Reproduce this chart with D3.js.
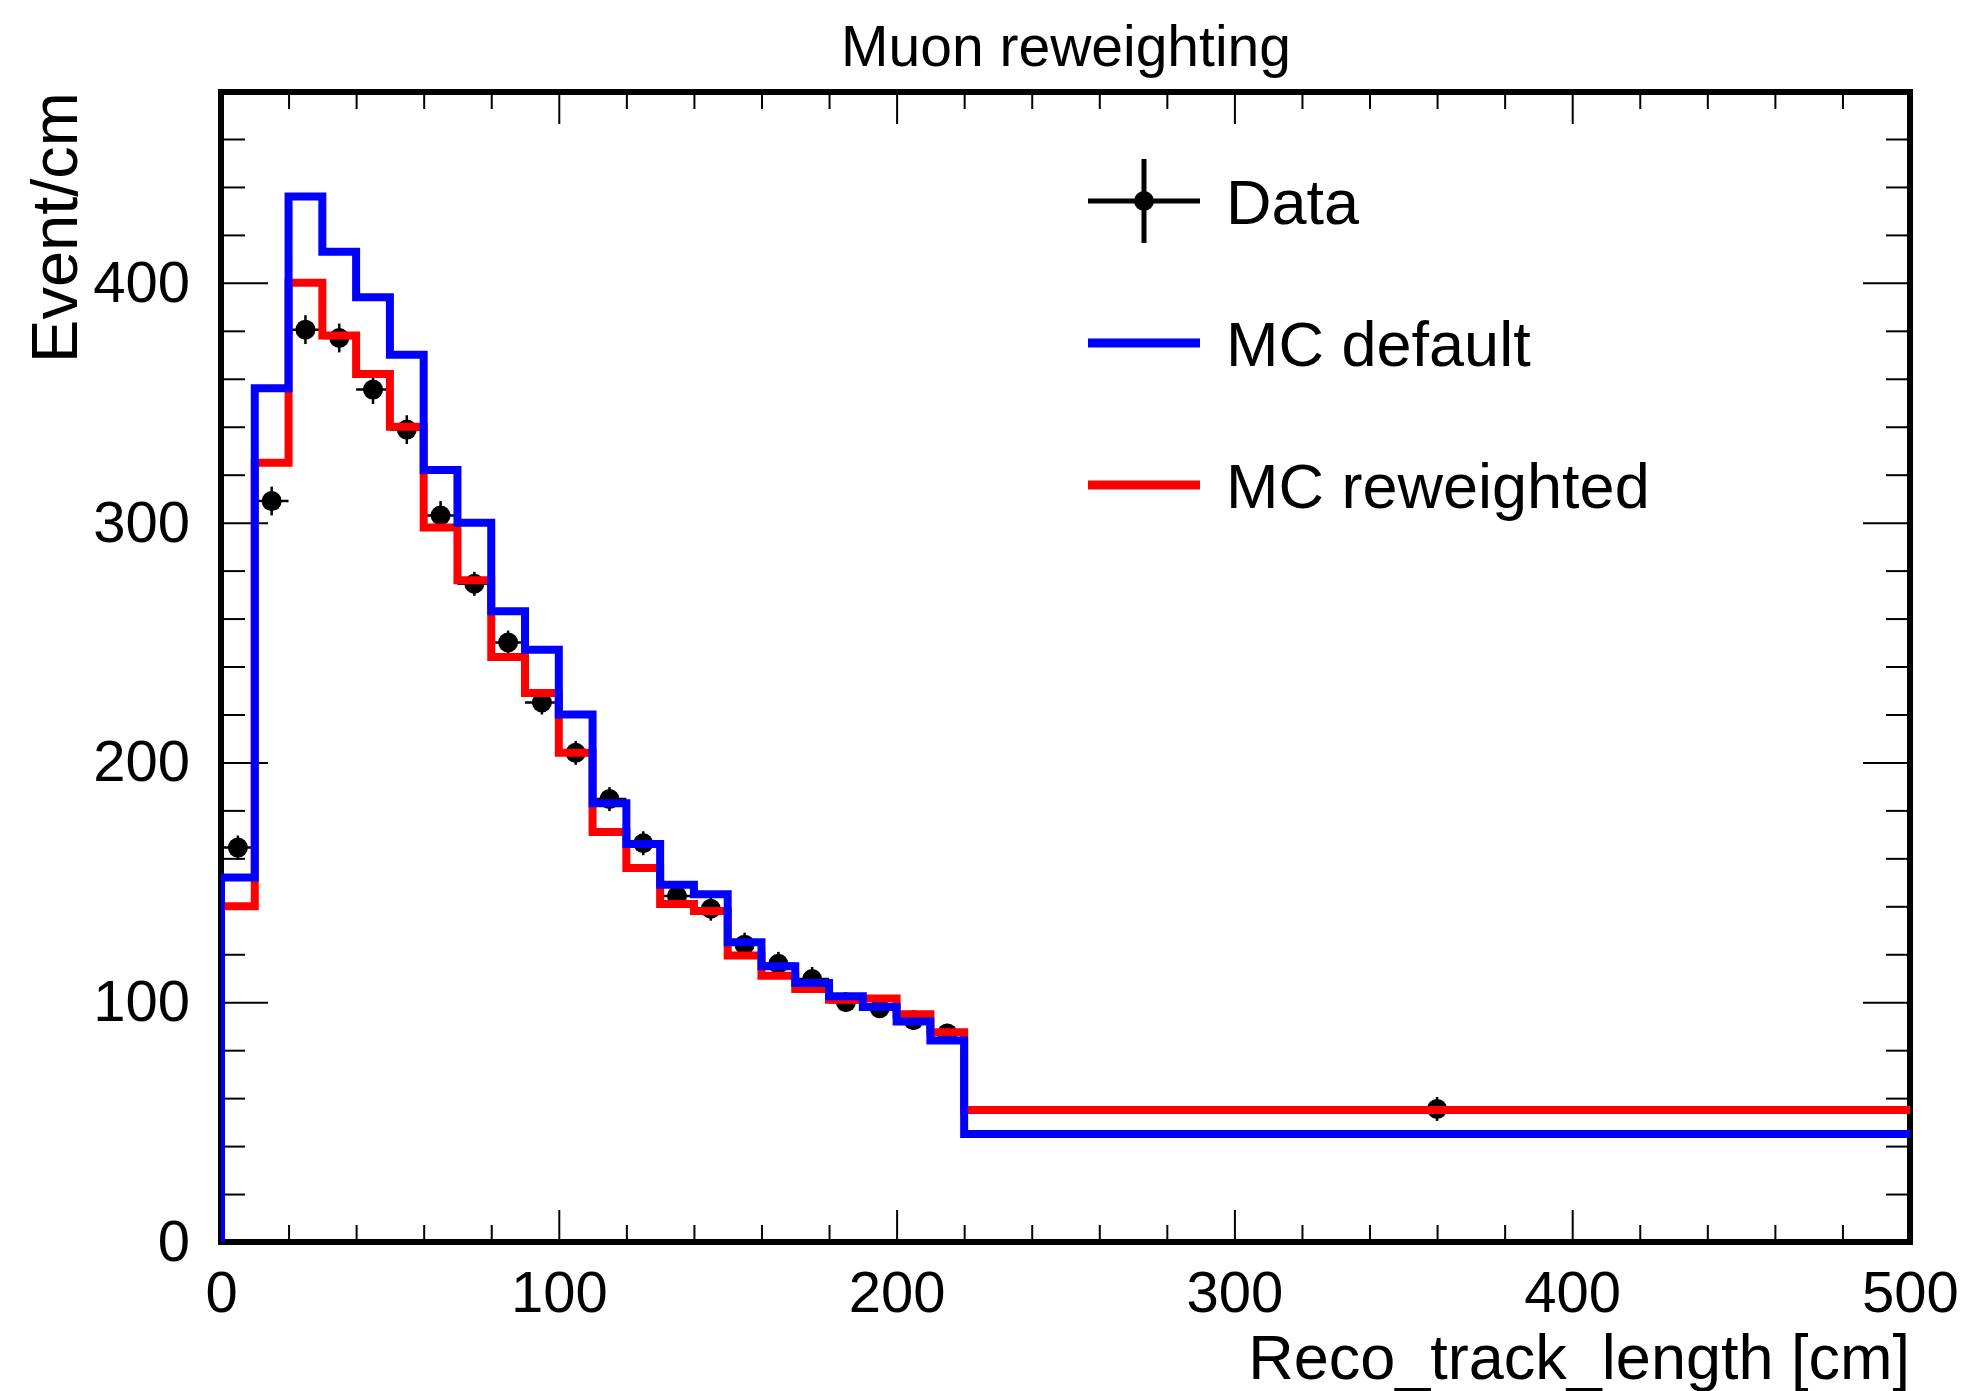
<!DOCTYPE html>
<html>
<head>
<meta charset="utf-8">
<script src="https://cdn.jsdelivr.net/npm/d3@7"></script>
<style>
    body { margin: 0; background: #fff; }
    text { font-family: 'Liberation Sans', Arial, sans-serif; }
</style>
</head>
<body>
<svg width="1966" height="1391"></svg>
<script>
// Bin edges (cm), 22 bins of 10 cm and one wide bin up to 500
const binEdges = [0, 10, 20, 30, 40, 50, 60, 70, 80, 90, 100, 110, 120, 130, 140, 150, 160, 170, 180, 190, 200, 210, 220, 500];

// MC default (blue)
const mcDefault = [152, 356, 436, 413, 394, 370, 322, 300, 263, 247, 220, 183, 166, 149, 145, 125, 115, 108, 102.5, 98, 92, 84, 45];

// MC reweighted (red)
const mcReweighted = [140, 325, 400, 378, 362, 340, 298, 276, 244, 229, 204, 171, 156, 141, 138, 119.5, 111, 105.5, 101, 101.5, 95, 87.5, 55];

// Data points and their errors
const dataValues = [164.5, 309, 380.5, 377, 355.5, 338.8, 303, 274.5, 250, 225, 204, 184.7, 166.3, 144.3, 139, 124, 116, 109.7, 100, 97.5, 92.5, 87, 55.5];
const dataErrors = [5, 6, 6, 6, 6, 6, 6, 5, 5, 5, 5, 5, 5, 5, 5, 5, 5, 5, 4, 4, 4, 4, 5];

const xMajorTicks = [0, 100, 200, 300, 400, 500];
const yMajorTicks = [0, 100, 200, 300, 400];

const legendLabels = ['Data', 'MC default', 'MC reweighted'];

function drawHistograms() {
    const width = 1966;
    const height = 1391;
    const padding = {
        top: 92,
        right: 56,
        bottom: 149,
        left: 221
    }
    const svg = d3.select('svg');
    svg.selectAll('*').remove();

    const xScale = d3.scaleLinear()
        .domain([0, 500])
        .range([padding.left, width - padding.right]);
    const yScale = d3.scaleLinear()
        .domain([0, 1.1 * d3.max(mcDefault)])
        .range([height - padding.bottom, padding.top]);

    const x0 = xScale.range()[0], x1 = xScale.range()[1];
    const y0 = yScale.range()[1], y1 = yScale.range()[0];

    svg.append('rect')
        .attr('width', width).attr('height', height).attr('fill', '#fff');

    svg.append('defs').append('clipPath').attr('id', 'plotClip')
        .append('rect')
        .attr('x', x0).attr('y', y0)
        .attr('width', x1 - x0).attr('height', y1 - y0);

    // Axes (ticks pointing into the frame, minor every 20, major every 100)
    const xMinor = d3.range(0, 501, 20).filter(v => v % 100 !== 0);
    const yMinor = d3.range(0, 480, 20).filter(v => v % 100 !== 0);

    function styleAxis(g) {
        g.select('.domain').remove();
        g.selectAll('line').attr('stroke', '#000').attr('stroke-width', 2);
        g.selectAll('text')
            .style('font-size', '58px')
            .style('font-family', "'Liberation Sans', Arial, sans-serif")
            .attr('fill', '#000');
    }

    svg.append('g')
        .attr('transform', `translate(0, ${y1})`)
        .call(d3.axisBottom(xScale).tickValues(xMinor).tickSize(-17).tickFormat(''))
        .call(styleAxis);
    svg.append('g')
        .attr('transform', `translate(0, ${y1})`)
        .call(d3.axisBottom(xScale).tickValues(xMajorTicks).tickSize(-32).tickPadding(29).tickFormat(d3.format('d')))
        .call(styleAxis);
    svg.append('g')
        .attr('transform', `translate(0, ${y0})`)
        .call(d3.axisTop(xScale).tickValues(xMinor).tickSize(-17).tickFormat(''))
        .call(styleAxis);
    svg.append('g')
        .attr('transform', `translate(0, ${y0})`)
        .call(d3.axisTop(xScale).tickValues(xMajorTicks).tickSize(-32).tickFormat(''))
        .call(styleAxis);

    svg.append('g')
        .attr('transform', `translate(${x0}, 0)`)
        .call(d3.axisLeft(yScale).tickValues(yMinor).tickSize(-24).tickFormat(''))
        .call(styleAxis);
    svg.append('g')
        .attr('transform', `translate(${x0}, 0)`)
        .call(d3.axisLeft(yScale).tickValues(yMajorTicks).tickSize(-47).tickPadding(31).tickFormat(d3.format('d')))
        .call(styleAxis);
    svg.append('g')
        .attr('transform', `translate(${x1}, 0)`)
        .call(d3.axisRight(yScale).tickValues(yMinor).tickSize(-24).tickFormat(''))
        .call(styleAxis);
    svg.append('g')
        .attr('transform', `translate(${x1}, 0)`)
        .call(d3.axisRight(yScale).tickValues(yMajorTicks).tickSize(-47).tickFormat(''))
        .call(styleAxis);

    // Frame
    svg.append('rect')
        .attr('x', x0).attr('y', y0)
        .attr('width', x1 - x0).attr('height', y1 - y0)
        .attr('fill', 'none')
        .attr('stroke', '#000')
        .attr('stroke-width', 6);

    const plot = svg.append('g').attr('clip-path', 'url(#plotClip)');

    // Data points (drawn first, histograms go over them)
    const points = dataValues.map((v, i) => ({
        lo: binEdges[i], hi: binEdges[i + 1],
        x: (binEdges[i] + binEdges[i + 1]) / 2, y: v, err: dataErrors[i]
    }));
    plot.selectAll('.xerr')
        .data(points)
        .join('line')
        .attr('x1', d => xScale(d.lo)).attr('x2', d => xScale(d.hi))
        .attr('y1', d => yScale(d.y)).attr('y2', d => yScale(d.y))
        .attr('stroke', '#000').attr('stroke-width', 2.5);
    plot.selectAll('.yerr')
        .data(points)
        .join('line')
        .attr('x1', d => xScale(d.x)).attr('x2', d => xScale(d.x))
        .attr('y1', d => yScale(d.y - d.err)).attr('y2', d => yScale(d.y + d.err))
        .attr('stroke', '#000').attr('stroke-width', 2.5);
    plot.selectAll('circle')
        .data(points)
        .join('circle')
        .attr('cx', d => xScale(d.x))
        .attr('cy', d => yScale(d.y))
        .attr('r', 10)
        .attr('fill', '#000');

    // Step histograms
    const stepLine = d3.line()
        .x(d => xScale(d[0]))
        .y(d => yScale(d[1]))
        .curve(d3.curveStepAfter);
    function histPoints(values) {
        const pts = [[binEdges[0], 0]];
        values.forEach((v, i) => pts.push([binEdges[i], v]));
        pts.push([binEdges[binEdges.length - 1], values[values.length - 1]]);
        return pts;
    }
    plot.append('path')
        .attr('d', stepLine(histPoints(mcReweighted)))
        .attr('fill', 'none')
        .attr('stroke', '#ff0000')
        .attr('stroke-width', 8)
        .attr('stroke-linejoin', 'miter');
    plot.append('path')
        .attr('d', stepLine(histPoints(mcDefault)))
        .attr('fill', 'none')
        .attr('stroke', '#0000ff')
        .attr('stroke-width', 8)
        .attr('stroke-linejoin', 'miter');

    // Legend
    const legendY = [201, 343, 485];
    const legendColors = ['#000', '#0000ff', '#ff0000'];
    const legend = svg.append('g');
    legendLabels.forEach((label, i) => {
        legend.append('line')
            .attr('x1', 1088).attr('x2', 1200)
            .attr('y1', legendY[i]).attr('y2', legendY[i])
            .attr('stroke', legendColors[i])
            .attr('stroke-width', i === 0 ? 5 : 9);
        legend.append('text')
            .text(label)
            .attr('x', 1226)
            .attr('y', legendY[i])
            .attr('dy', '0.36em')
            .style('font-size', '63px');
    });
    legend.append('line')
        .attr('x1', 1144).attr('x2', 1144)
        .attr('y1', legendY[0] - 42).attr('y2', legendY[0] + 42)
        .attr('stroke', '#000').attr('stroke-width', 5);
    legend.append('circle')
        .attr('cx', 1144).attr('cy', legendY[0]).attr('r', 10).attr('fill', '#000');

    // Labels
    svg.append('text')
        .text('Muon reweighting')
        .attr('x', 1066)
        .attr('y', 66)
        .style('text-anchor', 'middle')
        .style('font-size', '57px');
    svg.append('text')
        .text('Reco_track_length [cm]')
        .attr('x', x1)
        .attr('y', 1379)
        .style('text-anchor', 'end')
        .style('font-size', '63px');
    svg.append('text')
        .text('Event/cm')
        .attr('x', -y0)
        .attr('y', 77)
        .attr('transform', 'rotate(-90)')
        .style('text-anchor', 'end')
        .style('font-size', '65px');
}

window.addEventListener('load', drawHistograms);
</script>
</body>
</html>
